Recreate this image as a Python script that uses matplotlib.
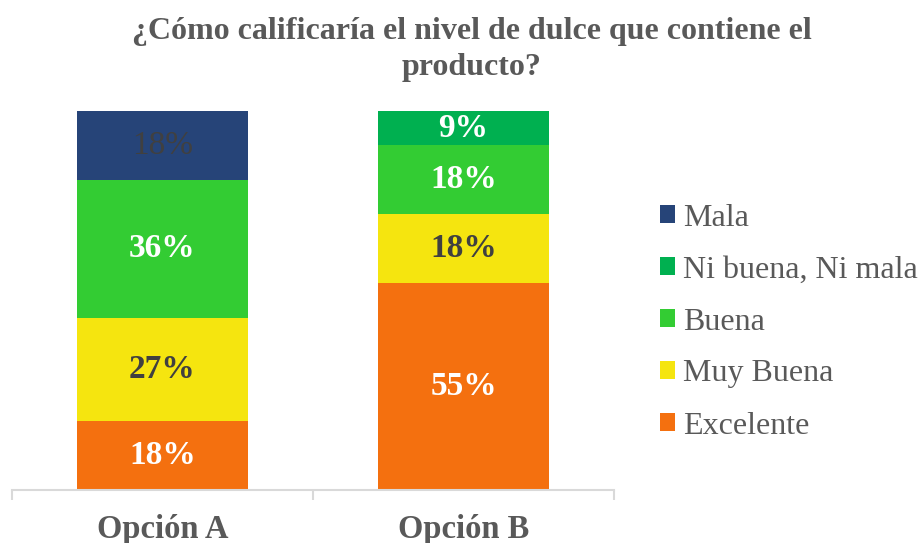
import matplotlib.pyplot as plt
import numpy as np

# datos de la encuesta (porcentajes)
categorias = ["Opción A", "Opción B"]
respuestas = ["Excelente", "Muy Buena", "Buena", "Ni buena, Ni mala", "Mala"]
excelente = [18.2, 54.6]
muy_buena = [27.3, 18.2]
buena = [36.3, 18.2]
ni_buena = [0.0, 9.0]
mala = [18.2, 0.0]

colores = ["#F4700F", "#F5E50F", "#33CC33", "#00B050", "#264478"]
color_texto = ["white", "#404040", "white", "white", "#404040"]
peso_texto = ["bold", "bold", "bold", "bold", "normal"]

plt.rcParams["font.family"] = ["Liberation Serif", "DejaVu Serif"]

fig = plt.figure(figsize=(9.19, 5.43), dpi=100)
ax = fig.add_axes([12 / 919, 53 / 543, 602 / 919, 379 / 543])

x = np.arange(len(categorias))
series = [excelente, muy_buena, buena, ni_buena, mala]
base = np.zeros(len(categorias))
barras = []
for i, valores in enumerate(series):
    valores = np.array(valores)
    b = ax.bar(x, valores, 0.568, bottom=base, color=colores[i], label=respuestas[i])
    barras.append(b)
    for xi, v, b0 in zip(x, valores, base):
        if v > 0:
            ax.text(xi, b0 + v / 2, f"{v:.0f}%", ha="center", va="center",
                    fontsize=24, color=color_texto[i], fontweight=peso_texto[i])
    base = base + valores

ax.set_xlim(-0.5, 1.5)
ax.set_ylim(0, 100)
ax.set_yticks([])
for s in ["top", "right", "left"]:
    ax.spines[s].set_visible(False)
ax.spines["bottom"].set_color("#D9D9D9")
ax.spines["bottom"].set_linewidth(1.5)

ax.set_xticks(x)
ax.set_xticklabels(categorias, fontsize=23.5, fontweight="bold", color="#595959")
ax.tick_params(axis="x", which="major", length=0, pad=17)
ax.set_xticks([-0.5, 0.5, 1.5], minor=True)
ax.tick_params(axis="x", which="minor", length=7, width=1.5, color="#D9D9D9")

fig.text(0.513, 0.968, "¿Cómo calificaría el nivel de dulce que contiene el\nproducto?",
         ha="center", va="top", fontsize=23, fontweight="bold", color="#595959",
         linespacing=1.3)

h = [barras[i] for i in range(4, -1, -1)]
l = [respuestas[i] for i in range(4, -1, -1)]
leg = fig.legend(h, l, loc="center left", bbox_to_anchor=(660 / 919, 221 / 543),
                 frameon=False, fontsize=23, handlelength=0.47, handleheight=0.47,
                 handletextpad=0.25, labelspacing=0.72, borderpad=0, borderaxespad=0)
for t in leg.get_texts():
    t.set_color("#595959")

fig.savefig("out.png", dpi=100)
